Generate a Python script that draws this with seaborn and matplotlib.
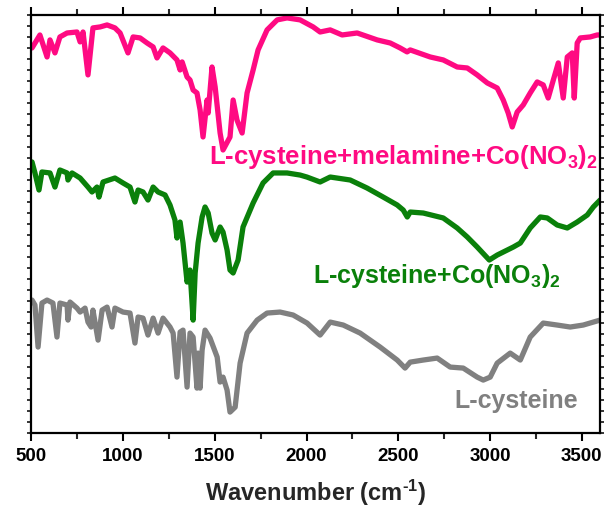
import numpy as np
import pandas as pd
import matplotlib
matplotlib.use("Agg")
import matplotlib.pyplot as plt
from matplotlib.ticker import MultipleLocator
import seaborn as sns

# FTIR spectra (stacked, arbitrary transmittance units)
wn_mel = [504, 547, 586, 602, 629, 656, 695, 749, 766, 782, 809, 836, 875, 913, 956,
          984, 1027, 1055, 1093, 1131, 1164, 1185, 1218, 1256, 1294, 1311, 1322, 1349,
          1365, 1382, 1403, 1420, 1436, 1458, 1464, 1485, 1502, 1529, 1545, 1583, 1600,
          1621, 1649, 1676, 1709, 1736, 1785, 1840, 1894, 1965, 2036, 2074, 2129, 2194,
          2276, 2385, 2456, 2510, 2548, 2565, 2674, 2745, 2821, 2876, 2930, 2985, 3039,
          3072, 3099, 3121, 3148, 3181, 3219, 3257, 3290, 3317, 3345, 3372, 3399, 3421,
          3448, 3459, 3475, 3492, 3546, 3584, 3600]
t_mel = [35.0, 36.18, 34.18, 35.73, 34.55, 36.0, 36.36, 36.45, 35.55, 36.45, 32.55, 36.82,
         36.91, 37.09, 36.82, 36.36, 34.55, 36.0, 35.91, 35.45, 35.09, 34.09, 35.0, 34.55,
         33.91, 33.0, 33.73, 32.36, 32.09, 31.18, 30.91, 29.36, 26.91, 30.27, 29.09, 33.27,
         31.45, 27.27, 25.73, 26.91, 30.27, 28.45, 27.27, 30.91, 33.0, 34.82, 36.64, 37.55,
         37.73, 37.55, 36.91, 36.45, 36.64, 36.18, 36.36, 35.73, 35.45, 35.0, 34.64, 34.82,
         34.18, 33.91, 33.27, 33.18, 32.55, 31.82, 31.36, 30.27, 29.09, 27.82, 29.18, 29.82,
         30.91, 31.91, 31.64, 30.45, 32.09, 33.64, 30.45, 34.18, 34.55, 30.45, 35.45, 35.91,
         36.0, 36.18, 36.18]

wn_co = [504, 520, 542, 558, 602, 629, 656, 695, 700, 722, 766, 809, 831, 858, 869, 891,
         956, 1000, 1038, 1065, 1082, 1109, 1136, 1164, 1191, 1229, 1256, 1283, 1294, 1311,
         1327, 1349, 1365, 1382, 1393, 1409, 1431, 1447, 1464, 1485, 1502, 1529, 1545, 1567,
         1583, 1600, 1627, 1654, 1709, 1763, 1818, 1894, 1965, 2002, 2074, 2129, 2238, 2330,
         2418, 2494, 2527, 2549, 2565, 2636, 2745, 2821, 2876, 2930, 2996, 3039, 3127, 3165,
         3219, 3274, 3312, 3366, 3421, 3475, 3530, 3563, 3584, 3600]
t_co = [24.64, 23.64, 22.09, 23.73, 23.64, 22.36, 23.91, 23.64, 23.0, 23.64, 23.18, 22.36,
        21.91, 22.36, 21.45, 22.82, 23.18, 22.73, 22.36, 21.0, 22.09, 21.91, 21.18, 22.36,
        21.91, 21.64, 20.73, 19.36, 17.73, 19.18, 17.27, 13.73, 14.82, 10.27, 14.55, 17.27,
        19.64, 20.55, 20.0, 18.18, 17.55, 18.73, 18.27, 16.64, 14.82, 14.55, 15.73, 18.73,
        20.91, 22.73, 23.64, 23.64, 23.45, 23.27, 22.82, 23.27, 23.0, 22.27, 21.45, 20.73,
        20.27, 19.64, 20.09, 20.0, 19.55, 18.64, 17.82, 16.91, 15.73, 16.18, 16.91, 17.27,
        18.64, 19.64, 19.55, 18.91, 18.64, 19.18, 19.82, 20.55, 20.91, 21.18]

wn_cys = [504, 520, 537, 558, 586, 618, 640, 656, 695, 700, 711, 749, 766, 793, 809, 826,
          836, 864, 886, 913, 940, 956, 1000, 1038, 1065, 1082, 1109, 1136, 1164, 1191, 1218,
          1256, 1273, 1294, 1311, 1327, 1349, 1365, 1382, 1403, 1409, 1420, 1431, 1447, 1474,
          1513, 1529, 1545, 1567, 1583, 1611, 1638, 1676, 1731, 1785, 1856, 1927, 2003, 2074,
          2129, 2200, 2292, 2401, 2494, 2537, 2565, 2636, 2712, 2783, 2854, 2930, 2963, 3001,
          3039, 3110, 3165, 3219, 3290, 3366, 3437, 3508, 3563, 3600]
t_cys = [12.09, 11.64, 7.82, 11.82, 12.09, 11.82, 8.73, 11.82, 11.64, 10.27, 11.91, 11.36,
         11.0, 11.36, 10.09, 9.64, 11.18, 8.45, 11.18, 11.45, 9.64, 11.36, 11.0, 10.91, 8.18,
         10.55, 10.45, 8.91, 10.45, 9.09, 10.45, 9.64, 9.09, 5.09, 9.18, 9.36, 4.18, 9.09,
         8.73, 4.09, 7.27, 4.09, 7.55, 9.36, 8.64, 6.91, 4.64, 5.09, 3.91, 1.91, 2.36, 6.36,
         9.09, 10.27, 10.91, 11.0, 10.73, 10.0, 8.91, 10.09, 9.82, 9.09, 7.82, 6.64, 5.91,
         6.45, 6.64, 6.82, 6.0, 5.91, 5.09, 4.82, 5.09, 6.36, 7.27, 6.64, 8.73, 10.0, 9.82,
         9.64, 9.82, 10.09, 10.27]

samples = ["L-cysteine+melamine+Co(NO$_3$)$_2$", "L-cysteine+Co(NO$_3$)$_2$", "L-cysteine"]
colors = ["#FF0A82", "#0A800A", "#808080"]
x_ticks = [500, 1000, 1500, 2000, 2500, 3000, 3500]

df = pd.concat([
    pd.DataFrame({"wavenumber": wn_mel, "T": t_mel, "sample": samples[0]}),
    pd.DataFrame({"wavenumber": wn_co, "T": t_co, "sample": samples[1]}),
    pd.DataFrame({"wavenumber": wn_cys, "T": t_cys, "sample": samples[2]}),
], ignore_index=True)

sns.set_theme(style="ticks")
plt.rcParams["font.family"] = ["Liberation Sans", "DejaVu Sans"]
plt.rcParams["mathtext.fontset"] = "custom"
plt.rcParams["mathtext.rm"] = "Liberation Sans:bold"
plt.rcParams["mathtext.it"] = "Liberation Sans:bold"
plt.rcParams["mathtext.bf"] = "Liberation Sans:bold"

fig = plt.figure(figsize=(6.11, 5.15), dpi=100)
ax = fig.add_axes([0.0512, 0.159, 0.931, 0.812])

sns.lineplot(data=df, x="wavenumber", y="T", hue="sample", palette=dict(zip(samples, colors)),
             sort=False, estimator=None, linewidth=3.8, legend=False, ax=ax,
             solid_joinstyle="round", solid_capstyle="round")

ax.set_xlim(500, 3600)
ax.set_ylim(0, 38)
ax.set_xticks(x_ticks)
ax.set_xticklabels([str(v) for v in x_ticks], fontsize=13.5, fontweight="bold")
ax.xaxis.set_minor_locator(MultipleLocator(250))
ax.yaxis.set_major_locator(MultipleLocator(1))
ax.set_yticklabels([])
ax.set_ylabel("")
ax.set_xlabel("Wavenumber (cm$^{\\text{-1}}$)", fontsize=17, fontweight="bold", labelpad=9)

for s in ax.spines.values():
    s.set_linewidth(1.6)
    s.set_color("black")
ax.tick_params(axis="x", which="major", direction="out", length=6, width=1.5, pad=5,
               top=True, colors="black")
ax.tick_params(axis="x", which="minor", direction="out", length=4, width=1.5, top=True)
ax.tick_params(axis="y", which="major", direction="out", length=3, width=1.3,
               left=True, right=True)

ax.text(3588, 25.1, samples[0], color=colors[0], fontsize=18.5, fontweight="bold",
        ha="right", va="center")
ax.text(3383, 14.3, samples[1], color=colors[1], fontsize=18, fontweight="bold",
        ha="right", va="center")
ax.text(3478, 2.9, samples[2], color=colors[2], fontsize=18, fontweight="bold",
        ha="right", va="center")

fig.savefig("out.png", dpi=100)
